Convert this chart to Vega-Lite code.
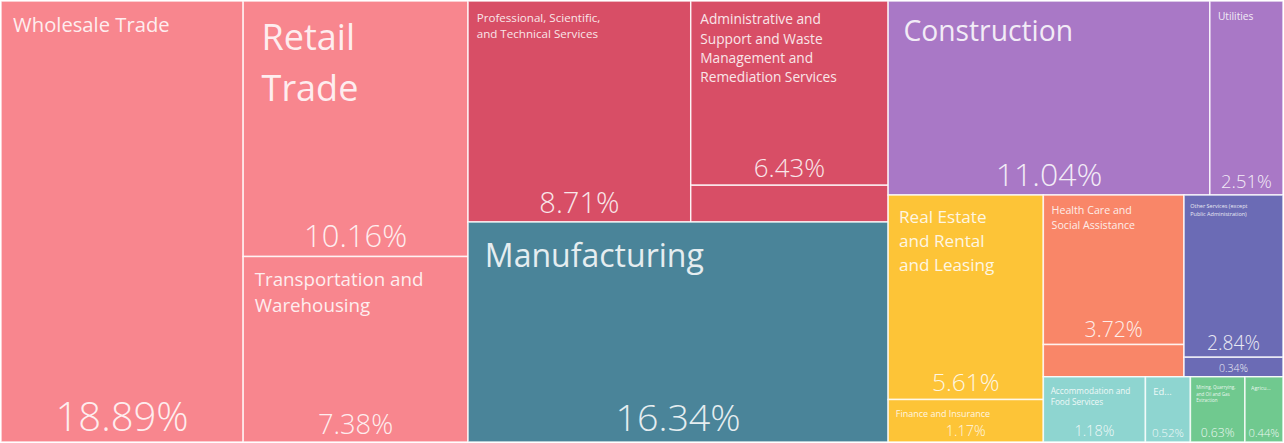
{
  "$schema": "https://vega.github.io/schema/vega-lite/v6.json",
  "width": 1284,
  "height": 443,
  "autosize": {"type": "fit", "contains": "padding"},
  "padding": 0,
  "view": {"stroke": null},
  "config": {"font": "Open Sans"},
  "data": {
    "values": [
      {"order": 1, "k1": "1", "k2": "1a", "k3": "1a", "k4": "1a", "k5": "1a", "k6": "1a", "name": "Wholesale Trade", "label": "Wholesale Trade", "value": 18.89, "group": "Trade & Transport", "part": 1},
      {"order": 2, "k1": "2", "k2": "2a", "k3": "2a", "k4": "2a", "k5": "2a", "k6": "2a", "name": "Retail Trade", "label": "Retail\nTrade", "value": 10.16, "group": "Trade & Transport", "part": 1},
      {"order": 3, "k1": "2", "k2": "2b", "k3": "2b", "k4": "2b", "k5": "2b", "k6": "2b", "name": "Transportation and Warehousing", "label": "Transportation and\nWarehousing", "value": 7.38, "group": "Trade & Transport", "part": 1},
      {"order": 4, "k1": "3", "k2": "3a", "k3": "3a1", "k4": "3a1", "k5": "3a1", "k6": "3a1", "name": "Professional, Scientific, and Technical Services", "label": "Professional, Scientific,\nand Technical Services", "value": 8.71, "group": "Professional & Administrative", "part": 1},
      {"order": 5, "k1": "3", "k2": "3a", "k3": "3a2", "k4": "3a2x", "k5": "3a2x", "k6": "3a2x", "name": "Administrative and Support and Waste Management and Remediation Services", "label": "Administrative and\nSupport and Waste\nManagement and\nRemediation Services", "value": 6.43, "group": "Professional & Administrative", "part": 1},
      {"order": 6, "k1": "3", "k2": "3a", "k3": "3a2", "k4": "3a2y", "k5": "3a2y", "k6": "3a2y", "name": "Administrative and Support and Waste Management and Remediation Services", "label": "", "value": 1.29, "group": "Professional & Administrative", "part": 2},
      {"order": 7, "k1": "3", "k2": "3b", "k3": "3b", "k4": "3b", "k5": "3b", "k6": "3b", "name": "Manufacturing", "label": "Manufacturing", "value": 16.34, "group": "Manufacturing", "part": 1},
      {"order": 8, "k1": "4", "k2": "4a", "k3": "4a1", "k4": "4a1", "k5": "4a1", "k6": "4a1", "name": "Construction", "label": "Construction", "value": 11.04, "group": "Construction & Utilities", "part": 1},
      {"order": 9, "k1": "4", "k2": "4a", "k3": "4a2", "k4": "4a2", "k5": "4a2", "k6": "4a2", "name": "Utilities", "label": "Utilities", "value": 2.51, "group": "Construction & Utilities", "part": 1},
      {"order": 10, "k1": "4", "k2": "4b", "k3": "4b1", "k4": "4b1x", "k5": "4b1x", "k6": "4b1x", "name": "Real Estate and Rental and Leasing", "label": "Real Estate\nand Rental\nand Leasing", "value": 5.61, "group": "Finance & Real Estate", "part": 1},
      {"order": 11, "k1": "4", "k2": "4b", "k3": "4b1", "k4": "4b1y", "k5": "4b1y", "k6": "4b1y", "name": "Finance and Insurance", "label": "Finance and Insurance", "value": 1.17, "group": "Finance & Real Estate", "part": 1},
      {"order": 12, "k1": "4", "k2": "4b", "k3": "4b2", "k4": "4b2u", "k5": "4b2uH", "k6": "4b2uHx", "name": "Health Care and Social Assistance", "label": "Health Care and\nSocial Assistance", "value": 3.72, "group": "Health Care", "part": 1},
      {"order": 13, "k1": "4", "k2": "4b", "k3": "4b2", "k4": "4b2u", "k5": "4b2uH", "k6": "4b2uHy", "name": "Health Care and Social Assistance", "label": "", "value": 0.80, "group": "Health Care", "part": 2},
      {"order": 14, "k1": "4", "k2": "4b", "k3": "4b2", "k4": "4b2u", "k5": "4b2uO", "k6": "4b2uOx", "name": "Other Services (except Public Administration)", "label": "Other Services (except\nPublic Administration)", "value": 2.84, "group": "Other Services", "part": 1},
      {"order": 15, "k1": "4", "k2": "4b", "k3": "4b2", "k4": "4b2u", "k5": "4b2uO", "k6": "4b2uOy", "name": "Unlabeled", "label": "", "value": 0.34, "group": "Other Services", "part": 1},
      {"order": 16, "k1": "4", "k2": "4b", "k3": "4b2", "k4": "4b2l", "k5": "4b2l1", "k6": "4b2l1", "name": "Accommodation and Food Services", "label": "Accommodation and\nFood Services", "value": 1.18, "group": "Hospitality & Education", "part": 1},
      {"order": 17, "k1": "4", "k2": "4b", "k3": "4b2", "k4": "4b2l", "k5": "4b2l2", "k6": "4b2l2", "name": "Educational Services", "label": "Ed...", "value": 0.52, "group": "Hospitality & Education", "part": 1},
      {"order": 18, "k1": "4", "k2": "4b", "k3": "4b2", "k4": "4b2l", "k5": "4b2l3", "k6": "4b2l3", "name": "Mining, Quarrying, and Oil and Gas Extraction", "label": "Mining, Quarrying,\nand Oil and Gas\nExtraction", "value": 0.63, "group": "Natural Resources", "part": 1},
      {"order": 19, "k1": "4", "k2": "4b", "k3": "4b2", "k4": "4b2l", "k5": "4b2l4", "k6": "4b2l4", "name": "Agriculture, Forestry, Fishing and Hunting", "label": "Agricu...", "value": 0.44, "group": "Natural Resources", "part": 1}
    ]
  },
  "transform": [
    {"joinaggregate": [{"op": "sum", "field": "value", "as": "T"}]},
    {"window": [{"op": "sum", "field": "value", "as": "c1"}], "sort": [{"field": "order", "order": "ascending"}], "frame": [null, 0]},
    {"joinaggregate": [{"op": "max", "field": "c1", "as": "e1"}, {"op": "sum", "field": "value", "as": "n1"}], "groupby": ["k1"]},
    {"calculate": "(datum.e1 - datum.n1) / datum.T", "as": "xa1"},
    {"calculate": "datum.e1 / datum.T", "as": "xb1"},
    {"window": [{"op": "sum", "field": "value", "as": "c2"}], "groupby": ["k1"], "sort": [{"field": "order", "order": "ascending"}], "frame": [null, 0]},
    {"joinaggregate": [{"op": "max", "field": "c2", "as": "e2"}, {"op": "sum", "field": "value", "as": "n2"}], "groupby": ["k2"]},
    {"calculate": "(datum.e2 - datum.n2) / datum.n1", "as": "ya2"},
    {"calculate": "datum.e2 / datum.n1", "as": "yb2"},
    {"window": [{"op": "sum", "field": "value", "as": "c3"}], "groupby": ["k2"], "sort": [{"field": "order", "order": "ascending"}], "frame": [null, 0]},
    {"joinaggregate": [{"op": "max", "field": "c3", "as": "e3"}, {"op": "sum", "field": "value", "as": "n3"}], "groupby": ["k3"]},
    {"calculate": "datum.xa1 + (datum.xb1 - datum.xa1) * (datum.e3 - datum.n3) / datum.n2", "as": "xa3"},
    {"calculate": "datum.xa1 + (datum.xb1 - datum.xa1) * datum.e3 / datum.n2", "as": "xb3"},
    {"window": [{"op": "sum", "field": "value", "as": "c4"}], "groupby": ["k3"], "sort": [{"field": "order", "order": "ascending"}], "frame": [null, 0]},
    {"joinaggregate": [{"op": "max", "field": "c4", "as": "e4"}, {"op": "sum", "field": "value", "as": "n4"}], "groupby": ["k4"]},
    {"calculate": "datum.ya2 + (datum.yb2 - datum.ya2) * (datum.e4 - datum.n4) / datum.n3", "as": "ya4"},
    {"calculate": "datum.ya2 + (datum.yb2 - datum.ya2) * datum.e4 / datum.n3", "as": "yb4"},
    {"window": [{"op": "sum", "field": "value", "as": "c5"}], "groupby": ["k4"], "sort": [{"field": "order", "order": "ascending"}], "frame": [null, 0]},
    {"joinaggregate": [{"op": "max", "field": "c5", "as": "e5"}, {"op": "sum", "field": "value", "as": "n5"}], "groupby": ["k5"]},
    {"calculate": "datum.xa3 + (datum.xb3 - datum.xa3) * (datum.e5 - datum.n5) / datum.n4", "as": "xa5"},
    {"calculate": "datum.xa3 + (datum.xb3 - datum.xa3) * datum.e5 / datum.n4", "as": "xb5"},
    {"window": [{"op": "sum", "field": "value", "as": "c6"}], "groupby": ["k5"], "sort": [{"field": "order", "order": "ascending"}], "frame": [null, 0]},
    {"joinaggregate": [{"op": "max", "field": "c6", "as": "e6"}, {"op": "sum", "field": "value", "as": "n6"}], "groupby": ["k6"]},
    {"calculate": "datum.ya4 + (datum.yb4 - datum.ya4) * (datum.e6 - datum.n6) / datum.n5", "as": "ya6"},
    {"calculate": "datum.ya4 + (datum.yb4 - datum.ya4) * datum.e6 / datum.n5", "as": "yb6"},
    {"calculate": "(datum.xa5 + datum.xb5) / 2", "as": "xm"},
    {"calculate": "(datum.xb5 - datum.xa5) * 1284", "as": "wpx"},
    {"calculate": "(datum.yb6 - datum.ya6) * 443", "as": "hpx"},
    {"calculate": "length(split(datum.label, '\\n'))", "as": "nl"},
    {"calculate": "length(datum.label) > 0 ? min(36, max(9, datum.hpx * 0.145), datum.wpx * 1.25 / (length(datum.label) / datum.nl)) : 10", "as": "fs"},
    {"calculate": "6 + 35 * sqrt(datum.value / 20)", "as": "pfs"},
    {"calculate": "format(datum.value, '.2f') + '%'", "as": "pct"}
  ],
  "encoding": {
    "x": {"field": "xa5", "type": "quantitative", "scale": {"domain": [0, 1], "nice": false, "zero": false}, "axis": null},
    "y": {"field": "ya6", "type": "quantitative", "scale": {"domain": [0, 1], "nice": false, "zero": false, "reverse": true}, "axis": null}
  },
  "layer": [
    {
      "mark": {"type": "rect", "stroke": "#ffffff", "strokeWidth": 1.5, "strokeOpacity": 0.8},
      "encoding": {
        "x2": {"field": "xb5"},
        "y2": {"field": "yb6"},
        "color": {
          "field": "group",
          "type": "nominal",
          "scale": {
            "domain": ["Trade & Transport", "Professional & Administrative", "Manufacturing", "Construction & Utilities", "Finance & Real Estate", "Health Care", "Other Services", "Hospitality & Education", "Natural Resources"],
            "range": ["#F8868E", "#D84E66", "#4A8499", "#A978C6", "#FDC437", "#F98668", "#6B6BB5", "#8ED5D0", "#70C98F"]
          },
          "legend": null
        },
        "tooltip": [{"field": "name", "type": "nominal"}, {"field": "pct", "type": "nominal"}]
      }
    },
    {
      "transform": [{"filter": "datum.part == 1 && length(datum.label) > 0"}],
      "mark": {
        "type": "text",
        "align": "left",
        "baseline": "top",
        "color": "#ffffff",
        "opacity": 0.86,
        "lineBreak": "\n",
        "lineHeight": {"expr": "datum.fs * 1.4"},
        "dx": {"expr": "4 + datum.fs * 0.4"},
        "dy": {"expr": "7 + datum.fs * 0.4"}
      },
      "encoding": {
        "text": {"field": "label"},
        "size": {"field": "fs", "type": "quantitative", "scale": null}
      }
    },
    {
      "transform": [{"filter": "datum.part == 1"}],
      "mark": {
        "type": "text",
        "align": "center",
        "baseline": "alphabetic",
        "color": "#ffffff",
        "opacity": 0.86,
        "fontWeight": 300,
        "dy": {"expr": "-(3 + datum.pfs * 0.2)"}
      },
      "encoding": {
        "x": {"field": "xm", "type": "quantitative"},
        "y": {"field": "yb6", "type": "quantitative"},
        "text": {"field": "pct"},
        "size": {"field": "pfs", "type": "quantitative", "scale": null}
      }
    }
  ]
}
